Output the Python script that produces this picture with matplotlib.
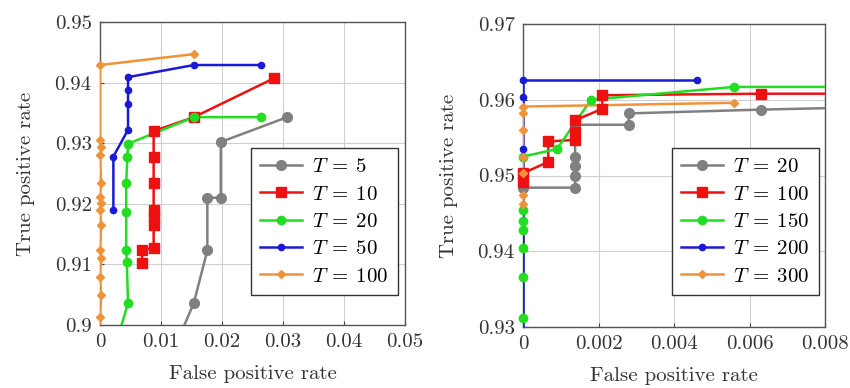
import matplotlib
matplotlib.use("Agg")
import matplotlib.pyplot as plt
from matplotlib.ticker import FixedLocator, FuncFormatter

plt.rcParams['font.family'] = 'cmr10'
plt.rcParams['mathtext.fontset'] = 'cm'
plt.rcParams['axes.formatter.use_mathtext'] = True

# ---- left panel (T = 5 .. 100) ----
left_labels = ["$T\\:=\\:5$", "$T\\:=\\:10$", "$T\\:=\\:20$", "$T\\:=\\:50$", "$T\\:=\\:100$"]

t5_x = [0.0307, 0.0198, 0.0198, 0.0176, 0.0176, 0.0154, 0.0128]
t5_y = [0.9343, 0.9302, 0.9210, 0.9210, 0.9123, 0.9037, 0.8975]

t10_x = [0.0285, 0.0154, 0.0088, 0.0088, 0.0088, 0.0088, 0.0088, 0.0088, 0.0088, 0.0069, 0.0069]
t10_y = [0.9407, 0.9343, 0.9320, 0.9277, 0.9234, 0.9190, 0.9178, 0.9165, 0.9127, 0.9124, 0.9102]

t20_x = [0.0264, 0.0154, 0.0046, 0.0045, 0.0043, 0.0043, 0.0043, 0.0044, 0.0046, 0.0028]
t20_y = [0.9343, 0.9343, 0.9299, 0.9278, 0.9234, 0.9187, 0.9124, 0.9104, 0.9036, 0.8975]

t50_x = [0.0264, 0.0154, 0.0046, 0.0046, 0.0046, 0.0046, 0.0022, 0.0022]
t50_y = [0.9429, 0.9429, 0.9409, 0.9387, 0.9365, 0.9322, 0.9278, 0.9189]

t100_x = [0.0154, 0.0, 0.0, 0.0002, 0.0, 0.0002, 0.0, 0.0002, 0.0, 0.0002, 0.0, 0.0002, 0.0, 0.0002, 0.0, 0.0]
t100_y = [0.9447, 0.9429, 0.9305, 0.9294, 0.9280, 0.9234, 0.9212, 0.9201, 0.9190, 0.9165,
          0.9124, 0.9110, 0.9080, 0.9050, 0.9014, 0.8990]

left_xticks = [0, 0.01, 0.02, 0.03, 0.04, 0.05]
left_yticks = [0.90, 0.91, 0.92, 0.93, 0.94, 0.95]

# ---- right panel (T = 20 .. 300) ----
right_labels = ["$T\\:=\\:20$", "$T\\:=\\:100$", "$T\\:=\\:150$", "$T\\:=\\:200$", "$T\\:=\\:300$"]

r20_x = [0.0090, 0.0063, 0.0028, 0.0028, 0.00138, 0.00138, 0.00138, 0.00138, 0.00138, 0.0, 0.0]
r20_y = [0.9590, 0.9587, 0.9582, 0.9567, 0.9567, 0.9525, 0.9512, 0.9499, 0.9484, 0.9484, 0.9290]

r100_x = [0.0090, 0.0063, 0.0021, 0.0021, 0.00138, 0.00138, 0.00138, 0.00067, 0.00067, 0.0, 0.0]
r100_y = [0.9608, 0.9608, 0.9606, 0.9588, 0.9573, 0.9558, 0.9547, 0.9545, 0.9518, 0.9503, 0.9492]

r150_x = [0.0090, 0.0056, 0.0018, 0.0009, 0.0, 0.0, 0.0, 0.0, 0.0, 0.0, 0.0]
r150_y = [0.9617, 0.9617, 0.9600, 0.9535, 0.9525, 0.9454, 0.9440, 0.9428, 0.9404, 0.9366, 0.9312]

r200_x = [0.0046, 0.0, 0.0, 0.0, 0.0]
r200_y = [0.9626, 0.9626, 0.9604, 0.9535, 0.9290]

r300_x = [0.0056, 0.0, 0.0, 0.0, 0.0, 0.0, 0.0, 0.0]
r300_y = [0.9596, 0.9591, 0.9582, 0.9560, 0.9525, 0.9503, 0.9474, 0.9463]

right_xticks = [0, 0.002, 0.004, 0.006, 0.008]
right_yticks = [0.93, 0.94, 0.95, 0.96, 0.97]

colors = ["#808080", "#ee1111", "#22dd22", "#1a1ad6", "#f0923a"]
markers = ["o", "s", "o", "o", "D"]
sizes = [7, 7, 6, 4.5, 4]

FS = 15


def tick_fmt(v, pos):
    return "%g" % round(v, 6)


def draw_panel(ax, xs, ys, labels, xticks, yticks, legend_anchor):
    x0, x1 = xticks[0], xticks[-1]
    y0, y1 = yticks[0], yticks[-1]
    for i in range(len(xs)):
        # line clipped to the axes, markers drawn unclipped (only those inside the range)
        ax.plot(xs[i], ys[i], color=colors[i], linewidth=1.8, zorder=3)
        mx = [x for x, y in zip(xs[i], ys[i]) if x0 <= x <= x1 and y0 <= y <= y1]
        my = [y for x, y in zip(xs[i], ys[i]) if x0 <= x <= x1 and y0 <= y <= y1]
        ax.plot(mx, my, linestyle="none", color=colors[i], marker=markers[i],
                markersize=sizes[i], clip_on=False, zorder=4)
        ax.plot([], [], color=colors[i], marker=markers[i], markersize=sizes[i],
                linewidth=1.8, label=labels[i])
    ax.set_xlim(x0, x1)
    ax.set_ylim(y0, y1)
    ax.xaxis.set_major_locator(FixedLocator(xticks))
    ax.yaxis.set_major_locator(FixedLocator(yticks))
    ax.xaxis.set_major_formatter(FuncFormatter(tick_fmt))
    ax.yaxis.set_major_formatter(FuncFormatter(tick_fmt))
    ax.tick_params(direction="in", length=3, labelsize=FS, colors="#444444",
                   labelcolor="#333333", pad=6)
    ax.grid(True, color="#d0d0d0", linewidth=0.8, zorder=0)
    for s in ax.spines.values():
        s.set_color("#555555")
        s.set_linewidth(1.0)
    ax.set_xlabel("False positive rate", fontsize=FS, color="#333333", labelpad=10)
    ax.set_ylabel("True positive rate", fontsize=FS, color="#333333", labelpad=14)
    leg = ax.legend(loc="lower right", bbox_to_anchor=legend_anchor, borderaxespad=0,
                    fontsize=FS, fancybox=False, framealpha=1, edgecolor="#333333",
                    handlelength=2.0, handletextpad=0.5, labelspacing=0.42, borderpad=0.45)
    leg.get_frame().set_linewidth(1.0)
    leg.set_zorder(6)


fig = plt.figure(figsize=(8.5, 3.88), dpi=100)
ax1 = fig.add_axes([0.1176, 0.1624, 0.3589, 0.7809])
ax2 = fig.add_axes([0.6153, 0.1572, 0.3553, 0.7809])

draw_panel(ax1, [t5_x, t10_x, t20_x, t50_x, t100_x], [t5_y, t10_y, t20_y, t50_y, t100_y],
           left_labels, left_xticks, left_yticks, (0.977, 0.099))
draw_panel(ax2, [r20_x, r100_x, r150_x, r200_x, r300_x], [r20_y, r100_y, r150_y, r200_y, r300_y],
           right_labels, right_xticks, right_yticks, (0.98, 0.106))

fig.savefig("out.png", dpi=100)
